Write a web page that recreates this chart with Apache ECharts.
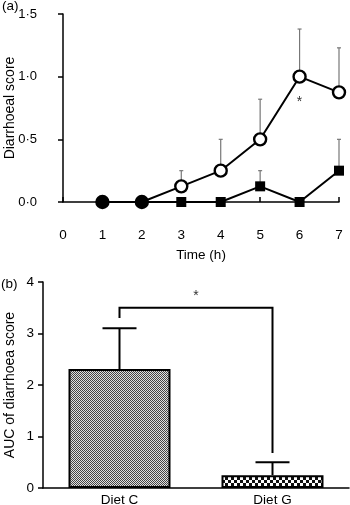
<!DOCTYPE html>
<html>
<head>
<meta charset="utf-8">
<script src="https://cdn.jsdelivr.net/npm/echarts@6/dist/echarts.min.js"></script>
<style>
  html, body { margin: 0; padding: 0; background: #fff; }
  #chart { width: 350px; height: 505px; }
</style>
</head>
<body>
<div id="chart"></div>
<script>
// panel (a): diarrhoeal score over time
var hours = [1, 2, 3, 4, 5, 6, 7];
var dietCScore = [0, 0, 0.125, 0.25, 0.5, 1.0, 0.875];
var dietCUpper = [0, 0, 0.25, 0.5, 0.82, 1.38, 1.23];
var dietGScore = [0, 0, 0, 0, 0.125, 0, 0.25];
var dietGUpper = [0, 0, 0, 0, 0.25, 0, 0.5];
var scoreTicks = [0, 0.5, 1.0, 1.5];
var sigA = [[6, 0.8]];

// panel (b): AUC
var diets = ["Diet C", "Diet G"];
var auc = [2.31, 0.25];
var aucUpper = [3.1, 0.5];
var bracket = [3.3, 3.5, 0.68]; // left foot, top, right foot
var sigB = 3.72;

var FONT = "Liberation Sans";
var FS = 13.5;

function pattern(cell, dark, light) {
    var c = document.createElement("canvas");
    c.width = cell * 2;
    c.height = cell * 2;
    var ctx = c.getContext("2d");
    ctx.fillStyle = light;
    ctx.fillRect(0, 0, c.width, c.height);
    ctx.fillStyle = dark;
    ctx.fillRect(0, 0, cell, cell);
    ctx.fillRect(cell, cell, cell, cell);
    return c;
}

var same = function (i) { return dietCScore[i] === dietGScore[i]; };

function errBars(xs, ys, ups, xi, yi, capHalf, color, width) {
    return {
        type: "custom",
        xAxisIndex: xi,
        yAxisIndex: yi,
        z: 1,
        silent: true,
        data: xs.map(function (x, i) { return [x, ys[i], ups[i]]; }),
        renderItem: function (params, api) {
            if (api.value(2) <= api.value(1)) return null;
            var lo = api.coord([api.value(0), api.value(1)]);
            var hi = api.coord([api.value(0), api.value(2)]);
            var st = { stroke: color, lineWidth: width };
            return {
                type: "group",
                children: [
                    { type: "line", shape: { x1: lo[0], y1: lo[1], x2: hi[0], y2: hi[1] }, style: st },
                    { type: "line", shape: { x1: hi[0] - capHalf, y1: hi[1], x2: hi[0] + capHalf, y2: hi[1] }, style: st }
                ]
            };
        }
    };
}

var chart = echarts.init(document.getElementById("chart"));
chart.setOption({
    animation: false,
    textStyle: { fontFamily: FONT },
    title: [
        { text: "(a)", left: 2, top: -1, padding: 0, textStyle: { fontSize: FS, fontWeight: "normal", color: "#000", fontFamily: FONT } },
        { text: "(b)", left: 1, top: 277, padding: 0, textStyle: { fontSize: FS, fontWeight: "normal", color: "#000", fontFamily: FONT } }
    ],
    grid: [
        { left: 63, top: 14, width: 276, height: 188, containLabel: false, outerBoundsMode: "none" },
        { left: 43, top: 282, width: 306, height: 206, containLabel: false, outerBoundsMode: "none" }
    ],
    xAxis: [
        {
            gridIndex: 0,
            type: "value",
            min: 0,
            max: 7,
            interval: 1,
            offset: 19,
            name: "Time (h)",
            nameLocation: "middle",
            nameGap: 27,
            nameMoveOverlap: false,
            nameTextStyle: { fontSize: FS, color: "#000" },
            axisLine: { lineStyle: { color: "#000", width: 1.5 } },
            axisTick: { inside: true, length: 5, lineStyle: { color: "#000", width: 1.5 } },
            axisLabel: { fontSize: FS, color: "#000", margin: 7 },
            splitLine: { show: false }
        },
        {
            gridIndex: 1,
            type: "category",
            data: diets,
            axisLine: { lineStyle: { color: "#000", width: 1.5 } },
            axisTick: { inside: true, alignWithLabel: true, length: 5, lineStyle: { color: "#000", width: 1.5 } },
            axisLabel: { fontSize: FS, color: "#000", margin: 5 }
        }
    ],
    yAxis: [
        {
            gridIndex: 0,
            type: "value",
            min: 0,
            max: 1.5,
            interval: 0.5,
            offset: 20,
            name: "Diarrhoeal score",
            nameLocation: "middle",
            nameGap: 26,
            nameMoveOverlap: false,
            nameTextStyle: { fontSize: 14, color: "#000" },
            axisLine: { show: true, lineStyle: { color: "#000", width: 1.5 } },
            axisTick: { show: true, length: 5, lineStyle: { color: "#000", width: 1.5 } },
            axisLabel: {
                fontSize: 13,
                color: "#000",
                margin: 6,
                formatter: function (v) { return scoreTicks.indexOf(v) < 0 ? "" : v.toFixed(1).replace(".", "·"); }
            },
            splitLine: { show: false }
        },
        {
            gridIndex: 1,
            type: "value",
            min: 0,
            max: 4,
            interval: 1,
            name: "AUC of diarrhoea score",
            nameLocation: "middle",
            nameGap: 26,
            nameMoveOverlap: false,
            nameTextStyle: { fontSize: 14, color: "#000" },
            axisLine: { show: true, lineStyle: { color: "#000", width: 1.5 } },
            axisTick: { show: true, length: 5, lineStyle: { color: "#000", width: 1.5 } },
            axisLabel: { fontSize: FS, color: "#000", margin: 9 },
            splitLine: { show: false }
        }
    ],
    series: [
        errBars(hours, dietCScore, dietCUpper, 0, 0, 2, "#777", 1.2),
        errBars(hours, dietGScore, dietGUpper, 0, 0, 2, "#777", 1.2),
        {
            type: "line",
            name: "Diet C",
            xAxisIndex: 0,
            yAxisIndex: 0,
            z: 3,
            data: hours.map(function (h, i) { return [h, dietCScore[i]]; }),
            symbol: "circle",
            symbolSize: 12,
            itemStyle: { color: "#fff", borderColor: "#000", borderWidth: 2.4 },
            lineStyle: { color: "#000", width: 2 }
        },
        {
            type: "line",
            name: "Diet G",
            xAxisIndex: 0,
            yAxisIndex: 0,
            z: 4,
            data: hours.map(function (h, i) { return [h, dietGScore[i]]; }),
            symbol: function (v, p) { return same(p.dataIndex) ? "circle" : "rect"; },
            symbolSize: function (v, p) { return same(p.dataIndex) ? 12 : 10; },
            itemStyle: { color: "#000" },
            lineStyle: { color: "#000", width: 2 }
        },
        {
            type: "custom",
            xAxisIndex: 0,
            yAxisIndex: 0,
            data: sigA,
            renderItem: function (params, api) {
                var p = api.coord([api.value(0), api.value(1)]);
                return { type: "text", x: p[0], y: p[1], style: { text: "*", fontSize: 14, fill: "#333", align: "center", verticalAlign: "middle", fontFamily: FONT } };
            }
        },
        {
            type: "bar",
            xAxisIndex: 1,
            yAxisIndex: 1,
            barWidth: 102,
            z: 2,
            data: auc.map(function (v, i) {
                return {
                    value: v,
                    itemStyle: {
                        color: i === 0
                            ? { image: pattern(1, "#444", "#e0e0e0"), repeat: "repeat" }
                            : { image: pattern(3, "#111", "#fff"), repeat: "repeat" },
                        borderColor: "#000",
                        borderWidth: 2
                    }
                };
            })
        },
        errBars([0, 1], auc, aucUpper, 1, 1, 17, "#000", 2),
        {
            type: "custom",
            xAxisIndex: 1,
            yAxisIndex: 1,
            z: 3,
            data: [[0, 1].concat(bracket).concat([sigB])],
            renderItem: function (params, api) {
                var a = api.coord([api.value(0), api.value(2)]);
                var b = api.coord([api.value(0), api.value(3)]);
                var c = api.coord([api.value(1), api.value(3)]);
                var d = api.coord([api.value(1), api.value(4)]);
                var s = api.coord([0.5, api.value(5)]);
                return {
                    type: "group",
                    children: [
                        { type: "polyline", shape: { points: [a, b, c, d] }, style: { stroke: "#000", lineWidth: 2, fill: null } },
                        { type: "text", x: (b[0] + c[0]) / 2, y: s[1], style: { text: "*", fontSize: 14, fill: "#333", align: "center", verticalAlign: "middle", fontFamily: FONT } }
                    ]
                };
            }
        }
    ]
});
</script>
</body>
</html>
